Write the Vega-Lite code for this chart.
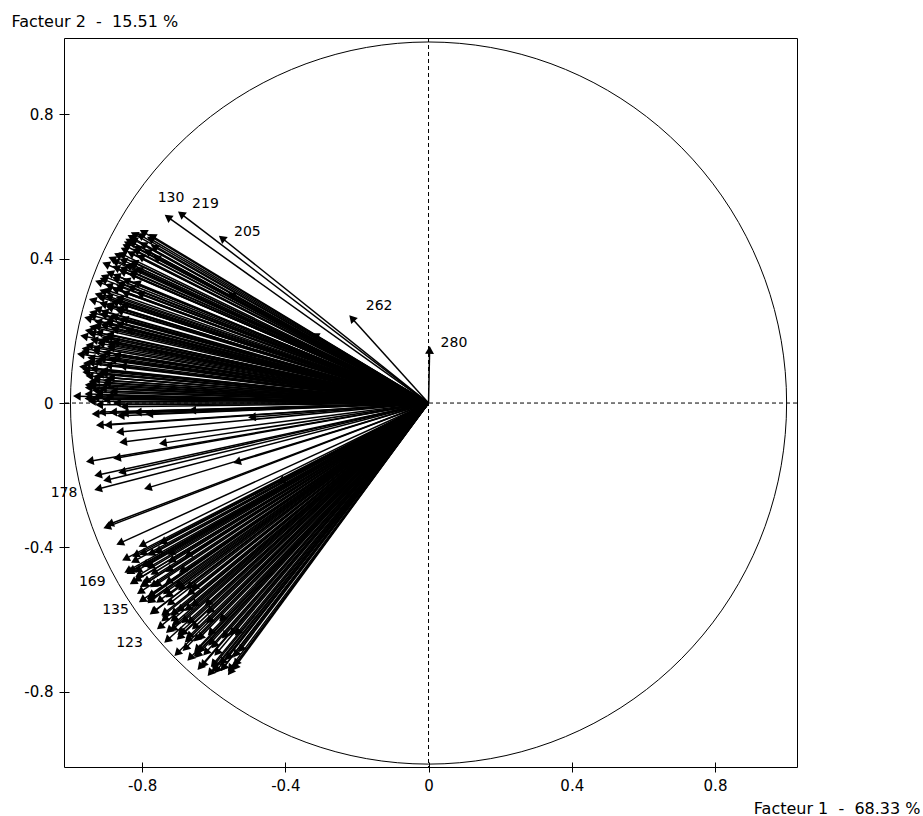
{
  "$schema": "https://vega.github.io/schema/vega-lite/v6.json",
  "width": 733,
  "height": 729,
  "autosize": {"type": "none"},
  "padding": {"left": 64, "top": 38, "right": 126, "bottom": 49},
  "background": "white",
  "config": {
    "view": {"stroke": "#000", "strokeWidth": 1},
    "font": "DejaVu Sans"
  },
  "datasets": {
    "circle": [
      {"i":0,"x":1,"y":0},{"i":1,"x":0.9848,"y":0.1736},{"i":2,"x":0.9397,"y":0.342},{"i":3,"x":0.866,"y":0.5},
      {"i":4,"x":0.766,"y":0.6428},{"i":5,"x":0.6428,"y":0.766},{"i":6,"x":0.5,"y":0.866},{"i":7,"x":0.342,"y":0.9397},
      {"i":8,"x":0.1736,"y":0.9848},{"i":9,"x":0,"y":1},{"i":10,"x":-0.1736,"y":0.9848},{"i":11,"x":-0.342,"y":0.9397},
      {"i":12,"x":-0.5,"y":0.866},{"i":13,"x":-0.6428,"y":0.766},{"i":14,"x":-0.766,"y":0.6428},{"i":15,"x":-0.866,"y":0.5},
      {"i":16,"x":-0.9397,"y":0.342},{"i":17,"x":-0.9848,"y":0.1736},{"i":18,"x":-1,"y":0},{"i":19,"x":-0.9848,"y":-0.1736},
      {"i":20,"x":-0.9397,"y":-0.342},{"i":21,"x":-0.866,"y":-0.5},{"i":22,"x":-0.766,"y":-0.6428},{"i":23,"x":-0.6428,"y":-0.766},
      {"i":24,"x":-0.5,"y":-0.866},{"i":25,"x":-0.342,"y":-0.9397},{"i":26,"x":-0.1736,"y":-0.9848},{"i":27,"x":0,"y":-1},
      {"i":28,"x":0.1736,"y":-0.9848},{"i":29,"x":0.342,"y":-0.9397},{"i":30,"x":0.5,"y":-0.866},{"i":31,"x":0.6428,"y":-0.766},
      {"i":32,"x":0.766,"y":-0.6428},{"i":33,"x":0.866,"y":-0.5},{"i":34,"x":0.9397,"y":-0.342},{"i":35,"x":0.9848,"y":-0.1736}
    ],
    "labels": [
      {"t":"130","lx":-0.719,"ly":0.568},
      {"t":"219","lx":-0.623,"ly":0.551},
      {"t":"205","lx":-0.506,"ly":0.474},
      {"t":"262","lx":-0.138,"ly":0.269},
      {"t":"280","lx":0.071,"ly":0.166},
      {"t":"178","lx":-1.018,"ly":-0.249},
      {"t":"169","lx":-0.939,"ly":-0.496},
      {"t":"135","lx":-0.874,"ly":-0.573},
      {"t":"123","lx":-0.835,"ly":-0.665}
    ],
    "arrows": [
      {"v":"130","x":-0.728,"y":0.515},{"v":"219","x":-0.691,"y":0.524},{"v":"205","x":-0.577,"y":0.457},
      {"v":"262","x":-0.214,"y":0.235},{"v":"280","x":0.003,"y":0.147},
      {"x":-0.797,"y":0.474},{"x":-0.822,"y":0.468},{"x":-0.317,"y":0.188},{"x":-0.55,"y":0.3},
      {"x":-0.805,"y":0.465},{"x":-0.831,"y":0.46},{"x":-0.777,"y":0.455},{"x":-0.837,"y":0.45},{"x":-0.828,"y":0.445},
      {"x":-0.797,"y":0.44},{"x":-0.845,"y":0.435},{"x":-0.813,"y":0.43},{"x":-0.85,"y":0.425},{"x":-0.785,"y":0.42},
      {"x":-0.832,"y":0.415},{"x":-0.868,"y":0.41},{"x":-0.804,"y":0.405},{"x":-0.884,"y":0.4},{"x":-0.853,"y":0.395},
      {"x":-0.822,"y":0.39},{"x":-0.901,"y":0.385},{"x":-0.838,"y":0.38},{"x":-0.873,"y":0.375},{"x":-0.809,"y":0.37},
      {"x":-0.855,"y":0.365},{"x":-0.89,"y":0.36},{"x":-0.827,"y":0.355},{"x":-0.905,"y":0.35},{"x":-0.874,"y":0.345},
      {"x":-0.844,"y":0.34},{"x":-0.921,"y":0.335},{"x":-0.859,"y":0.33},{"x":-0.893,"y":0.325},{"x":-0.83,"y":0.32},
      {"x":-0.875,"y":0.315},{"x":-0.909,"y":0.31},{"x":-0.847,"y":0.305},{"x":-0.922,"y":0.3},{"x":-0.893,"y":0.295},
      {"x":-0.863,"y":0.29},{"x":-0.938,"y":0.285},{"x":-0.876,"y":0.28},{"x":-0.909,"y":0.275},{"x":-0.848,"y":0.27},
      {"x":-0.891,"y":0.265},{"x":-0.924,"y":0.26},{"x":-0.863,"y":0.255},{"x":-0.937,"y":0.25},{"x":-0.908,"y":0.245},
      {"x":-0.878,"y":0.24},{"x":-0.951,"y":0.235},{"x":-0.891,"y":0.23},{"x":-0.923,"y":0.225},{"x":-0.862,"y":0.22},
      {"x":-0.905,"y":0.215},{"x":-0.937,"y":0.21},{"x":-0.876,"y":0.205},{"x":-0.949,"y":0.2},{"x":-0.92,"y":0.195},
      {"x":-0.89,"y":0.19},{"x":-0.962,"y":0.185},{"x":-0.902,"y":0.18},{"x":-0.934,"y":0.175},{"x":-0.874,"y":0.17},
      {"x":-0.915,"y":0.165},{"x":-0.947,"y":0.16},{"x":-0.887,"y":0.155},{"x":-0.958,"y":0.15},{"x":-0.929,"y":0.145},
      {"x":-0.899,"y":0.14},{"x":-0.971,"y":0.135},{"x":-0.911,"y":0.13},{"x":-0.942,"y":0.125},{"x":-0.882,"y":0.12},
      {"x":-0.923,"y":0.115},{"x":-0.954,"y":0.11},{"x":-0.894,"y":0.105},{"x":-0.965,"y":0.1},{"x":-0.935,"y":0.095},
      {"x":-0.906,"y":0.09},{"x":-0.956,"y":0.085},{"x":-0.917,"y":0.08},{"x":-0.947,"y":0.075},{"x":-0.887,"y":0.07},
      {"x":-0.928,"y":0.065},{"x":-0.938,"y":0.06},{"x":-0.898,"y":0.055},{"x":-0.949,"y":0.05},{"x":-0.939,"y":0.045},
      {"x":-0.909,"y":0.04},{"x":-0.929,"y":0.035},{"x":-0.92,"y":0.03},{"x":-0.95,"y":0.025},{"x":-0.89,"y":0.02},
      {"x":-0.982,"y":0.019},{"x":-0.93,"y":0.015},{"x":-0.9,"y":0.01},{"x":-0.94,"y":0.005},{"x":-0.87,"y":0},
      {"x":-0.92,"y":-0.005},{"x":-0.85,"y":-0.01},
      {"x":-0.772,"y":0.4625},{"x":-0.824,"y":0.4525},{"x":-0.841,"y":0.4425},{"x":-0.766,"y":0.4325},{"x":-0.817,"y":0.4225},
      {"x":-0.856,"y":0.4125},{"x":-0.76,"y":0.4025},{"x":-0.876,"y":0.3925},{"x":-0.826,"y":0.3825},{"x":-0.852,"y":0.3725},
      {"x":-0.824,"y":0.3625},{"x":-0.871,"y":0.3525},{"x":-0.908,"y":0.3425},{"x":-0.815,"y":0.3325},{"x":-0.862,"y":0.3225},
      {"x":-0.897,"y":0.3125},{"x":-0.805,"y":0.3025},{"x":-0.914,"y":0.2925},{"x":-0.865,"y":0.2825},{"x":-0.889,"y":0.2725},
      {"x":-0.861,"y":0.2625},{"x":-0.905,"y":0.2525},{"x":-0.939,"y":0.2425},{"x":-0.849,"y":0.2325},{"x":-0.893,"y":0.2225},
      {"x":-0.926,"y":0.2125},{"x":-0.836,"y":0.2025},{"x":-0.94,"y":0.1925},{"x":-0.892,"y":0.1825},{"x":-0.914,"y":0.1725},
      {"x":-0.885,"y":0.1625},{"x":-0.928,"y":0.1525},{"x":-0.959,"y":0.1425},{"x":-0.87,"y":0.1325},{"x":-0.912,"y":0.1225},
      {"x":-0.943,"y":0.1125},{"x":-0.854,"y":0.1025},{"x":-0.956,"y":0.0925},{"x":-0.906,"y":0.0825},{"x":-0.927,"y":0.0725},
      {"x":-0.898,"y":0.0625},{"x":-0.939,"y":0.0525},{"x":-0.949,"y":0.0425},{"x":-0.879,"y":0.0325},{"x":-0.92,"y":0.0225},
      {"x":-0.95,"y":0.0125},
      {"x":-0.912,"y":-0.025},{"x":-0.881,"y":-0.025},{"x":-0.848,"y":-0.028},{"x":-0.812,"y":-0.025},{"x":-0.93,"y":-0.03},
      {"x":-0.86,"y":-0.035},{"x":-0.78,"y":-0.03},{"x":-0.66,"y":-0.02},{"x":-0.918,"y":-0.061},{"x":-0.895,"y":-0.061},
      {"x":-0.862,"y":-0.08},{"x":-0.853,"y":-0.108},{"x":-0.742,"y":-0.111},{"x":-0.946,"y":-0.161},{"x":-0.87,"y":-0.152},
      {"x":-0.923,"y":-0.199},{"x":-0.856,"y":-0.191},{"x":-0.898,"y":-0.213},{"v":"178","x":-0.923,"y":-0.238},{"x":-0.784,"y":-0.235},
      {"x":-0.535,"y":-0.163},{"x":-0.493,"y":-0.039},{"x":-0.898,"y":-0.343},{"x":-0.89,"y":-0.335},{"x":-0.862,"y":-0.388},
      {"x":-0.8,"y":-0.393},{"x":-0.742,"y":-0.385},{"x":-0.672,"y":-0.421},{"x":-0.412,"y":-0.216},
      {"v":"169","x":-0.834,"y":-0.468},{"x":-0.812,"y":-0.463},{"x":-0.784,"y":-0.449},{"x":-0.825,"y":-0.496},{"x":-0.797,"y":-0.504},
      {"v":"135","x":-0.8,"y":-0.546},{"x":-0.778,"y":-0.537},{"x":-0.7,"y":-0.504},{"x":-0.666,"y":-0.526},{"x":-0.77,"y":-0.579},
      {"v":"123","x":-0.75,"y":-0.62},{"x":-0.73,"y":-0.657},{"x":-0.702,"y":-0.693},{"x":-0.666,"y":-0.706},{"x":-0.638,"y":-0.731},
      {"x":-0.591,"y":-0.74},{"x":-0.574,"y":-0.734},{"x":-0.708,"y":-0.609},{"x":-0.686,"y":-0.637},{"x":-0.638,"y":-0.684},
      {"x":-0.554,"y":-0.745},{"x":-0.61,"y":-0.748},
      {"x":-0.846,"y":-0.431},{"x":-0.798,"y":-0.416},{"x":-0.821,"y":-0.437},{"x":-0.756,"y":-0.41},{"x":-0.84,"y":-0.465},
      {"x":-0.792,"y":-0.448},{"x":-0.719,"y":-0.415},{"x":-0.81,"y":-0.477},{"x":-0.814,"y":-0.489},{"x":-0.767,"y":-0.47},
      {"x":-0.789,"y":-0.493},{"x":-0.725,"y":-0.462},{"x":-0.805,"y":-0.523},{"x":-0.759,"y":-0.502},{"x":-0.688,"y":-0.464},
      {"x":-0.775,"y":-0.532},{"x":-0.778,"y":-0.545},{"x":-0.733,"y":-0.523},{"x":-0.752,"y":-0.547},{"x":-0.691,"y":-0.512},
      {"x":-0.767,"y":-0.578},{"x":-0.722,"y":-0.554},{"x":-0.654,"y":-0.511},{"x":-0.736,"y":-0.585},{"x":-0.738,"y":-0.598},
      {"x":-0.694,"y":-0.572},{"x":-0.712,"y":-0.598},{"x":-0.654,"y":-0.558},{"x":-0.725,"y":-0.63},{"x":-0.682,"y":-0.603},
      {"x":-0.617,"y":-0.555},{"x":-0.693,"y":-0.635},{"x":-0.695,"y":-0.648},{"x":-0.653,"y":-0.62},{"x":-0.669,"y":-0.646},
      {"x":-0.613,"y":-0.603},{"x":-0.679,"y":-0.679},{"x":-0.638,"y":-0.649},{"x":-0.577,"y":-0.597},{"x":-0.647,"y":-0.682},
      {"x":-0.648,"y":-0.695},{"x":-0.608,"y":-0.664},{"x":-0.622,"y":-0.691},{"x":-0.57,"y":-0.644},{"x":-0.63,"y":-0.725},
      {"x":-0.591,"y":-0.692},{"x":-0.534,"y":-0.636},{"x":-0.598,"y":-0.725},{"x":-0.598,"y":-0.738},{"x":-0.56,"y":-0.704},
      {"x":-0.573,"y":-0.733},{"x":-0.524,"y":-0.682},{"x":-0.554,"y":-0.735},{"x":-0.541,"y":-0.732},
      {"x":-0.818,"y":-0.421},{"x":-0.775,"y":-0.417},{"x":-0.829,"y":-0.464},{"x":-0.777,"y":-0.453},{"x":-0.718,"y":-0.436},
      {"x":-0.795,"y":-0.502},{"x":-0.769,"y":-0.504},{"x":-0.727,"y":-0.495},{"x":-0.776,"y":-0.548},{"x":-0.726,"y":-0.532},
      {"x":-0.669,"y":-0.508},{"x":-0.738,"y":-0.582},{"x":-0.712,"y":-0.582},{"x":-0.672,"y":-0.569},{"x":-0.714,"y":-0.626},
      {"x":-0.666,"y":-0.605},{"x":-0.612,"y":-0.576},{"x":-0.673,"y":-0.656},{"x":-0.648,"y":-0.653},{"x":-0.609,"y":-0.636},
      {"x":-0.645,"y":-0.698},{"x":-0.599,"y":-0.671},{"x":-0.548,"y":-0.636},{"x":-0.601,"y":-0.723},{"x":-0.576,"y":-0.718},
      {"x":-0.539,"y":-0.696},{"x":-0.538,"y":-0.721}
    ]
  },
  "layer": [
    {
      "data": {"name": "circle"},
      "mark": {"type": "line", "interpolate": "cardinal-closed", "color": "#000", "strokeWidth": 1},
      "encoding": {
        "x": {
          "field": "x", "type": "quantitative",
          "scale": {"domain": [-1.018, 1.029], "nice": false, "zero": false},
          "axis": {
            "values": [-0.8, -0.4, 0, 0.4, 0.8],
            "labelExpr": "datum.value < 0 ? '-' + format(-datum.value, '.1f') : (datum.value == 0 ? '0' : format(datum.value, '.1f'))",
            "domain": false, "grid": false, "offset": -5, "tickSize": 10, "tickColor": "#000", "tickWidth": 1,
            "labelFont": "DejaVu Sans", "labelFontSize": 15, "labelColor": "#000", "labelPadding": 6,
            "title": "Facteur 1\u00a0\u00a0-\u00a0\u00a068.33 %", "titleFont": "DejaVu Sans", "titleFontSize": 16, "titleFontWeight": "normal",
            "titleColor": "#000", "titleAlign": "right", "titleBaseline": "alphabetic", "titleX": 856, "titleY": 51, "titleAnchor": null, "titleLimit": 400
          }
        },
        "y": {
          "field": "y", "type": "quantitative",
          "scale": {"domain": [-1.008, 1.011], "nice": false, "zero": false},
          "axis": {
            "values": [-0.8, -0.4, 0, 0.4, 0.8],
            "labelExpr": "datum.value < 0 ? '-' + format(-datum.value, '.1f') : (datum.value == 0 ? '0' : format(datum.value, '.1f'))",
            "domain": false, "grid": false, "offset": -5, "tickSize": 10, "tickColor": "#000", "tickWidth": 1,
            "labelFont": "DejaVu Sans", "labelFontSize": 15, "labelColor": "#000", "labelPadding": 6,
            "title": "Facteur 2\u00a0\u00a0-\u00a0\u00a015.51 %", "titleFont": "DejaVu Sans", "titleFontSize": 16, "titleFontWeight": "normal",
            "titleColor": "#000", "titleAngle": 0, "titleAlign": "left", "titleBaseline": "alphabetic", "titleX": -58, "titleY": -12, "titleAnchor": null, "titleLimit": 400
          }
        },
        "order": {"field": "i"}
      }
    },
    {
      "data": {"values": [{"z": 0}]},
      "mark": {"type": "rule", "color": "#000", "strokeDash": [4, 3], "strokeWidth": 1},
      "encoding": {"x": {"field": "z", "type": "quantitative"}}
    },
    {
      "data": {"values": [{"z": 0}]},
      "mark": {"type": "rule", "color": "#000", "strokeDash": [4, 3], "strokeWidth": 1},
      "encoding": {"y": {"field": "z", "type": "quantitative"}}
    },
    {
      "data": {"name": "arrows"},
      "mark": {"type": "rule", "color": "#000", "strokeWidth": 1.5},
      "encoding": {
        "x": {"field": "x", "type": "quantitative"},
        "y": {"field": "y", "type": "quantitative"},
        "x2": {"datum": 0},
        "y2": {"datum": 0}
      }
    },
    {
      "data": {"name": "arrows"},
      "transform": [{"calculate": "90 - atan2(datum.y, datum.x) * 180 / PI", "as": "ang"}],
      "mark": {"type": "point", "shape": "triangle-up", "filled": true, "size": 80, "color": "#000", "opacity": 1},
      "encoding": {
        "x": {"field": "x", "type": "quantitative"},
        "y": {"field": "y", "type": "quantitative"},
        "angle": {"field": "ang", "type": "quantitative", "scale": null}
      }
    },
    {
      "data": {"name": "labels"},
      "mark": {"type": "text", "font": "DejaVu Sans", "fontSize": 14, "color": "#000", "align": "center", "baseline": "middle"},
      "encoding": {
        "x": {"field": "lx", "type": "quantitative"},
        "y": {"field": "ly", "type": "quantitative"},
        "text": {"field": "t"}
      }
    }
  ]
}
